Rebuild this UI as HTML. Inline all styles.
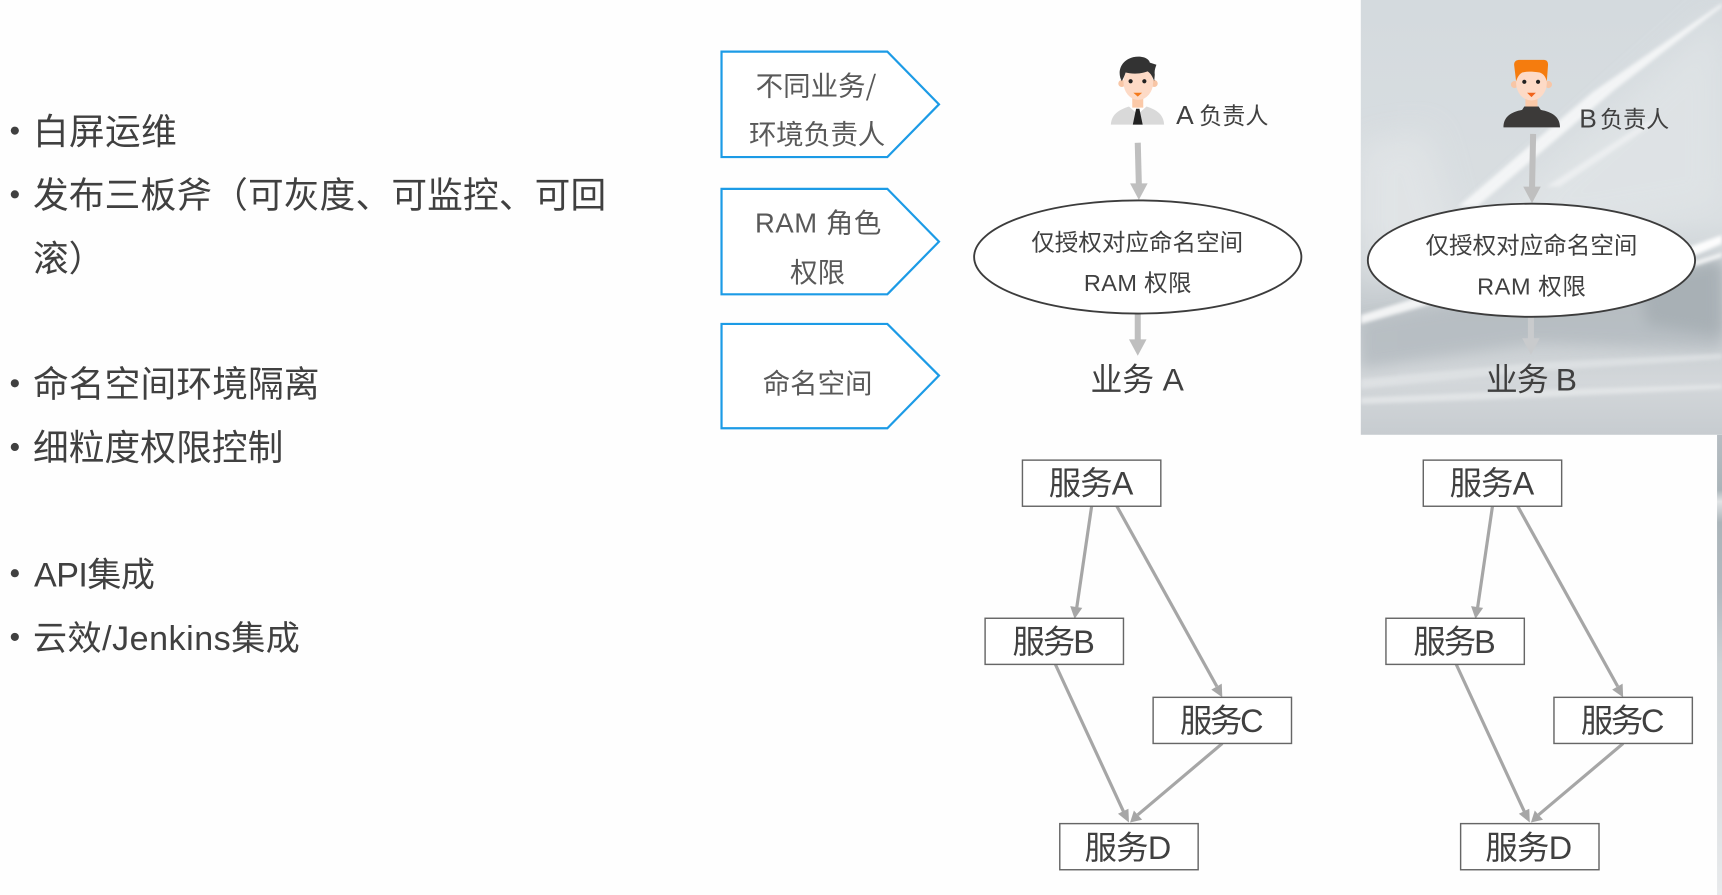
<!DOCTYPE html>
<html lang="zh"><head><meta charset="utf-8"><title>diagram</title>
<style>
html,body{margin:0;padding:0;background:#fff;width:1722px;height:895px;overflow:hidden}
svg{display:block}
text{font-family:"Liberation Sans","Noto Sans CJK SC",sans-serif;fill:#404040}
.cjk{font-family:"Noto Sans CJK SC","Liberation Sans",sans-serif}
</style></head><body>
<svg width="1722" height="895" viewBox="0 0 1568 815" preserveAspectRatio="none" xmlns="http://www.w3.org/2000/svg">
<defs>
<linearGradient id="pg" x1="0" y1="0" x2="0" y2="1">
<stop offset="0" stop-color="#d4dade"/><stop offset=".5" stop-color="#d9dee1"/><stop offset=".72" stop-color="#c3c9cd"/><stop offset=".88" stop-color="#d3d7da"/><stop offset="1" stop-color="#c7ccd0"/>
</linearGradient>
<linearGradient id="sl" gradientUnits="userSpaceOnUse" x1="0" y1="396" x2="0" y2="815">
<stop offset="0" stop-color="#b6bdc2"/><stop offset=".12" stop-color="#aab4b9"/><stop offset=".145" stop-color="#dfe2e4"/><stop offset=".19" stop-color="#aab4b9"/><stop offset=".34" stop-color="#b2bac0"/><stop offset=".5" stop-color="#ced4d7"/><stop offset="1" stop-color="#e8eaec"/>
</linearGradient>
<filter id="b6" x="-20%" y="-50%" width="140%" height="200%"><feGaussianBlur stdDeviation="6"/></filter>
<filter id="b14" x="-30%" y="-30%" width="160%" height="160%"><feGaussianBlur stdDeviation="14"/></filter>
<filter id="b3" x="-20%" y="-50%" width="140%" height="200%"><feGaussianBlur stdDeviation="1.8"/></filter>
<clipPath id="pc"><rect x="1239" y="0" width="329" height="396"/></clipPath>
</defs>
<rect width="1568" height="815" fill="#fefefe"/>
<rect x="1563.5" y="396" width="4.5" height="419" fill="url(#sl)"/>
<g clip-path="url(#pc)">
<rect x="1239" y="0" width="329" height="396" fill="url(#pg)"/>
<polygon points="1239,130 1300,120 1330,230 1239,260" fill="#e3e6e8" opacity=".7" filter="url(#b14)"/>
<polygon points="1568,10 1568,190 1420,215 1340,215" fill="#e2e6e8" opacity=".65" filter="url(#b14)"/>
<polygon points="1568,3 1568,6 1470,82 1345,188 1328,188 1450,84" fill="#fff" opacity=".7" filter="url(#b3)"/>
<polygon points="1500,110 1510,110 1420,170 1408,170" fill="#f5f6f7" opacity=".6" filter="url(#b3)"/>
<polygon points="1239,292 1380,268 1500,262 1568,240 1568,318 1400,312 1239,335" fill="#b5bcc1" opacity=".85" filter="url(#b6)"/>
<polygon points="1490,250 1568,236 1568,306 1500,296" fill="#a6aeb3" opacity=".85" filter="url(#b6)"/>
<polygon points="1530,228 1568,214 1568,222 1535,236" fill="#fff" opacity=".95" filter="url(#b3)"/>
<polygon points="1535,240 1568,230 1568,234 1538,244" fill="#fff" opacity=".8" filter="url(#b3)"/>
<polygon points="1239,287 1300,268 1320,272 1239,295" fill="#fff" opacity=".8" filter="url(#b3)"/>
<polygon points="1239,345 1400,330 1568,322 1568,327 1400,338 1239,354" fill="#e3e6e8" opacity=".65" filter="url(#b3)"/>
<polygon points="1239,362 1400,355 1568,350 1568,354 1400,362 1239,368" fill="#edeff0" opacity=".6" filter="url(#b3)"/>
</g>

<!-- left list -->
<g font-size="32.5">
<circle cx="13.5" cy="119" r="3.7" fill="#404040"/><text class="cjk" x="30" y="131" textLength="131">白屏运维</text>
<circle cx="13.5" cy="177" r="3.7" fill="#404040"/><text class="cjk" x="30" y="189" textLength="522">发布三板斧（可灰度、可监控、可回</text>
<text class="cjk" x="30" y="247">滚）</text>
<circle cx="13.5" cy="349" r="3.7" fill="#404040"/><text class="cjk" x="30" y="361" textLength="261">命名空间环境隔离</text>
<circle cx="13.5" cy="407" r="3.7" fill="#404040"/><text class="cjk" x="30" y="419" textLength="228">细粒度权限控制</text>
<circle cx="13.5" cy="522" r="3.7" fill="#404040"/><text x="31" y="534" textLength="110" font-size="31">API集成</text>
<circle cx="13.5" cy="580" r="3.7" fill="#404040"/><text x="30" y="592" textLength="243" font-size="31">云效/Jenkins集成</text>
</g>

<!-- pentagons -->
<g fill="#fff" stroke="#1c9be6" stroke-width="2">
<polygon points="657,47 808,47 855,95 808,143 657,143"/>
<polygon points="657,172 808,172 855,220 808,268 657,268"/>
<polygon points="657,295 808,295 855,342 808,390 657,390"/>
</g>
<g font-size="25" text-anchor="middle">
<text class="cjk" x="743" y="87" style="fill:#595959" textLength="110">不同业务/</text>
<text class="cjk" x="744" y="131" style="fill:#595959" textLength="124">环境负责人</text>
<text x="745" y="211.5" style="fill:#595959" textLength="115">RAM 角色</text>
<text class="cjk" x="744.5" y="257" style="fill:#595959">权限</text>
<text class="cjk" x="744.5" y="358" style="fill:#595959">命名空间</text>
</g>

<!-- person A -->
<g>
<path d="M1011.5,113.5 C1012,104 1019,100 1028,97 L1044,97 C1053,100 1059.5,104 1060,113.5Z" fill="#d9d9d9"/>
<path d="M1028,97 L1036,104 L1044,97 L1040,96 L1032,96Z" fill="#fff"/>
<rect x="1031" y="88" width="10" height="10" fill="#fbc9a8"/>
<path d="M1034.5,99 L1037.5,99 L1040.5,113.5 L1031.5,113.5Z" fill="#222"/>
<circle cx="1021.5" cy="76" r="3.2" fill="#f8c6a6"/><circle cx="1051" cy="76" r="3.2" fill="#f8c6a6"/>
<ellipse cx="1036.5" cy="75" rx="13.5" ry="16" fill="#fddac6"/>
<path d="M1021.5,74 C1017,66 1020,55 1032,52 C1040,50.5 1046,53 1047,57 L1053,59 C1052,62 1051,64 1051.5,68 L1051,74 C1049.5,70 1048,67 1045,65 C1037,68 1029,67 1025,66 C1024,69 1023,71 1021.5,74Z" fill="#333"/>
<circle cx="1029.5" cy="74" r="1.9" fill="#222"/><circle cx="1042" cy="74" r="1.9" fill="#222"/>
<path d="M1032,84.5 L1040,84.5 L1036,88Z" fill="#f47a1c"/>
</g>
<text x="1071" y="113" font-size="24">A</text><text class="cjk" x="1092" y="113" font-size="21">负责人</text>

<!-- person B -->
<g>
<path d="M1369,116 C1369,106 1376,102 1386,100 L1388,97 L1401,97 L1403,100 C1413,102 1420.5,106 1420.5,116Z" fill="#3c3a39"/>
<rect x="1389" y="89" width="11" height="8" fill="#fbc9a8"/>
<circle cx="1379" cy="77" r="3.2" fill="#f8c6a6"/><circle cx="1410" cy="77" r="3.2" fill="#f8c6a6"/>
<ellipse cx="1394.5" cy="75.5" rx="14" ry="16" fill="#fddac6"/>
<path d="M1380.5,74 L1378.7,59 C1378.7,55.5 1381,54.5 1384,54.5 L1405,54.5 C1408,54.5 1409.6,55.5 1409.6,59 L1408.5,74 C1407,69 1405,67 1402,66 C1395,65 1390,65 1386,66 C1383,68 1382,70 1380.5,74Z" fill="#f57c0e"/>
<circle cx="1388" cy="74.5" r="1.9" fill="#222"/><circle cx="1400.5" cy="74.5" r="1.9" fill="#222"/>
<path d="M1390.5,84.5 L1398.5,84.5 L1394.5,88.5Z" fill="#f0641c"/>
</g>
<text x="1438" y="116" font-size="24">B</text><text class="cjk" x="1457" y="116" font-size="21">负责人</text>

<!-- thick arrows -->
<g stroke="#bfbfbf" stroke-width="5.5" fill="#bfbfbf">
<line x1="1036" y1="130" x2="1037" y2="168"/><polygon stroke="none" points="1029,167 1045,167 1037,182"/>
<line x1="1036" y1="285" x2="1036" y2="310"/><polygon stroke="none" points="1028,309 1044,309 1036,324"/>
<line x1="1396" y1="122" x2="1395" y2="172"/><polygon stroke="none" points="1387,170 1403,170 1395,185"/>
</g>
<g stroke="#c9cbcd" stroke-width="5.5" fill="#c9cbcd">
<line x1="1394" y1="288" x2="1394" y2="310"/><polygon stroke="none" points="1386,308 1402,308 1394,323"/>
</g>

<!-- ellipses -->
<ellipse cx="1036" cy="234" rx="149" ry="51.5" fill="#fff" stroke="#3c3c3c" stroke-width="1.7"/>
<ellipse cx="1394.5" cy="237" rx="149" ry="51.5" fill="#fff" stroke="#3c3c3c" stroke-width="1.7"/>
<g font-size="21.4" text-anchor="middle">
<text class="cjk" x="1035.5" y="228" textLength="193">仅授权对应命名空间</text>
<text x="1036" y="265" textLength="98">RAM 权限</text>
<text class="cjk" x="1394.5" y="231" textLength="193">仅授权对应命名空间</text>
<text x="1394.5" y="268" textLength="99">RAM 权限</text>
</g>
<g font-size="29" text-anchor="middle">
<text x="1035.5" y="355.5" textLength="85">业务 A</text>
<text x="1394.5" y="355.5" textLength="83">业务 B</text>
</g>

<!-- dependency groups -->
<g>
<g stroke="#a6a6a6" stroke-width="2.9" fill="#a6a6a6">
<line x1="994" y1="461" x2="980.5" y2="553"/><polygon stroke="none" points="974.5,552 985.5,553.5 978.5,563.5"/>
<line x1="1017" y1="461" x2="1108" y2="625"/><polygon stroke="none" points="1103,628 1112.5,622.5 1113,635"/>
<line x1="961" y1="605" x2="1023" y2="739"/><polygon stroke="none" points="1018,741 1027.5,736.5 1028,749"/>
<line x1="1113" y1="677" x2="1036" y2="742"/><polygon stroke="none" points="1032.5,738 1040,746.5 1029,749"/>
</g>
<g fill="#fff" stroke="#666" stroke-width="1.3">
<rect x="931" y="419" width="126" height="42"/>
<rect x="897" y="563" width="126" height="42"/>
<rect x="1050" y="635" width="126" height="42"/>
<rect x="965" y="750" width="126" height="42"/>
</g>
<g font-size="29.5" text-anchor="middle">
<text x="993.5" y="450.5" textLength="77">服务A</text>
<text x="959.5" y="594.5" textLength="75">服务B</text>
<text x="1112.5" y="666.5" textLength="76">服务C</text>
<text x="1027" y="782" textLength="79">服务D</text>
</g>
</g>
<g>
<g stroke="#a6a6a6" stroke-width="2.9" fill="#a6a6a6">
<line x1="1359" y1="461" x2="1345.5" y2="553"/><polygon stroke="none" points="1339.5,552 1350.5,553.5 1343.5,563.5"/>
<line x1="1382" y1="461" x2="1473" y2="625"/><polygon stroke="none" points="1468,628 1477.5,622.5 1478,635"/>
<line x1="1326" y1="605" x2="1388" y2="739"/><polygon stroke="none" points="1383,741 1392.5,736.5 1393,749"/>
<line x1="1478" y1="677" x2="1401" y2="742"/><polygon stroke="none" points="1397.5,738 1405,746.5 1394,749"/>
</g>
<g fill="#fff" stroke="#666" stroke-width="1.3">
<rect x="1296" y="419" width="126" height="42"/>
<rect x="1262" y="563" width="126" height="42"/>
<rect x="1415" y="635" width="126" height="42"/>
<rect x="1330" y="750" width="126" height="42"/>
</g>
<g font-size="29.5" text-anchor="middle">
<text x="1358.5" y="450.5" textLength="77">服务A</text>
<text x="1324.5" y="594.5" textLength="75">服务B</text>
<text x="1477.5" y="666.5" textLength="76">服务C</text>
<text x="1392" y="782" textLength="79">服务D</text>
</g>
</g>
</svg>
</body></html>
